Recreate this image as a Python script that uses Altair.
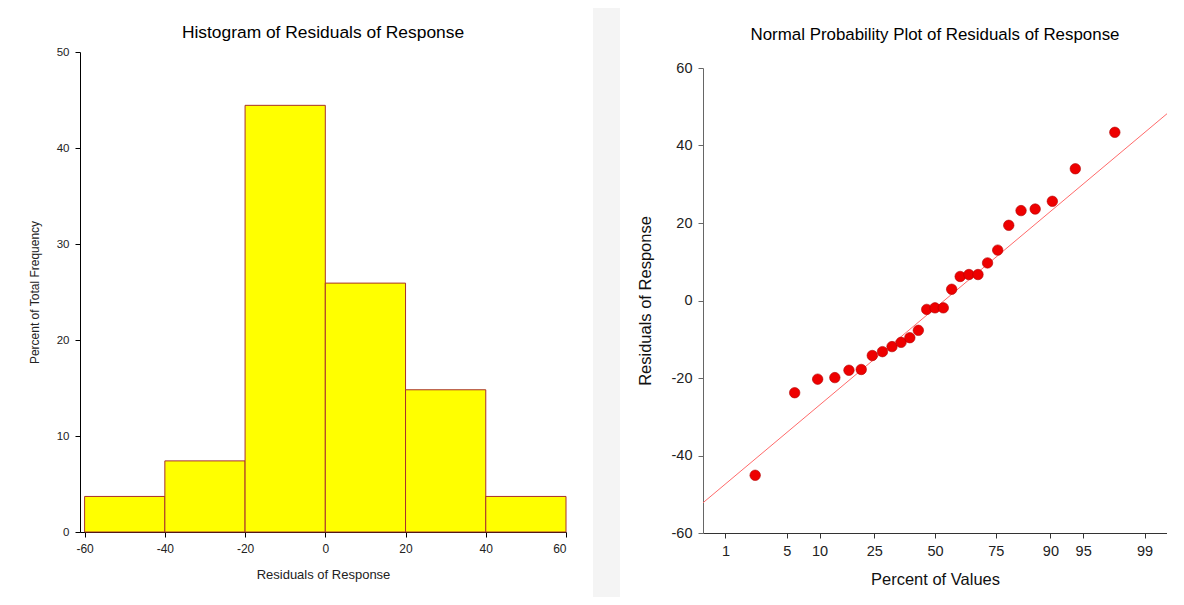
import altair as alt
import pandas as pd
from statistics import NormalDist

# ---- data ----
residuals = [-45.1, -23.8, -20.3, -19.9, -18.0, -17.8, -14.2, -13.2, -11.9, -10.8,
             -9.6, -7.7, -2.3, -1.9, -1.9, 2.9, 6.2, 6.7, 6.7, 9.7,
             13.0, 19.4, 23.2, 23.6, 25.6, 34.0, 43.4]
hist_x_ticks = [-60, -40, -20, 0, 20, 40, 60]
hist_y_ticks = [0, 10, 20, 30, 40, 50]
prob_ticks_pct = [1, 5, 10, 25, 50, 75, 90, 95, 99]
resid_ticks = [-60, -40, -20, 0, 20, 40, 60]
fit_pct = [0.5, 99.5]
fit_resid = [-52.2, 48.2]

FONT = "Liberation Sans"
nd = NormalDist()
prob_ticks_z = [nd.inv_cdf(p / 100) for p in prob_ticks_pct]
z_domain = [nd.inv_cdf(0.005), nd.inv_cdf(0.995)]

# ---- left: histogram ----
hist = (
    alt.Chart(pd.DataFrame({"resid": residuals}))
    .transform_bin(["bin_lo", "bin_hi"], field="resid", bin=alt.Bin(extent=[-60, 60], step=20))
    .transform_aggregate(count="count()", groupby=["bin_lo", "bin_hi"])
    .transform_joinaggregate(total="sum(count)")
    .transform_calculate(pct="100 * datum.count / datum.total")
    .mark_bar(fill="#ffff00", stroke="#a8322a", strokeWidth=1, orient="vertical")
    .encode(
        x=alt.X("bin_lo:Q",
                scale=alt.Scale(domain=[-61.15, 60], nice=False, zero=False, padding=0),
                axis=alt.Axis(values=hist_x_ticks, labelExpr="datum.value + ''",
                              title="Residuals of Response", titleFontSize=13,
                              labelFontSize=12, tickSize=5, labelPadding=6,
                              titlePadding=14, domainColor="#000", tickColor="#000",
                              labelColor="#222", titleColor="#222", grid=False,
                              labelFont=FONT, titleFont=FONT, titleFontWeight="normal")),
        x2="bin_hi:Q",
        y=alt.Y("pct:Q",
                scale=alt.Scale(domain=[0, 50], nice=False, padding=0),
                axis=alt.Axis(values=hist_y_ticks, title="Percent of Total Frequency",
                              titleFontSize=12, labelFontSize=11.5, tickSize=5,
                              labelPadding=6, titlePadding=15, domainColor="#000",
                              tickColor="#000", labelColor="#222", titleColor="#222",
                              grid=False, labelFont=FONT, titleFont=FONT,
                              titleFontWeight="normal")),
        y2=alt.datum(0),
    )
    .properties(
        width=486, height=480,
        title=alt.TitleParams("Histogram of Residuals of Response", fontSize=17.4, font=FONT,
                              fontWeight="normal", color="#000", frame="group",
                              anchor="middle", baseline="alphabetic", offset=-9),
    )
)

# ---- middle: grey separator strip ----
strip = (
    alt.Chart(pd.DataFrame({"a": [0]}))
    .mark_rect(color="#f4f4f4", clip=False)
    .encode(x=alt.value(9), x2=alt.value(36), y=alt.value(-44), y2=alt.value(545))
    .properties(width=27, height=480)
)

# ---- right: normal probability plot ----
x_enc = dict(
    scale=alt.Scale(domain=z_domain, nice=False, zero=False),
    axis=alt.Axis(values=prob_ticks_z,
                  labelExpr="round(cumulativeNormal(datum.value) * 100) + ''",
                  title="Percent of Values", titleFontSize=16.5, labelFontSize=14.5,
                  tickSize=5, labelPadding=6, titlePadding=14, domainColor="#333",
                  tickColor="#333", labelColor="#222", titleColor="#111", grid=False,
                  labelFont=FONT, titleFont=FONT, titleFontWeight="normal"),
)
y_enc = dict(
    scale=alt.Scale(domain=[-60, 60], nice=False, range=[481, 16]),
    axis=alt.Axis(values=resid_ticks, labelExpr="datum.value + ''",
                  title="Residuals of Response", titleFontSize=16.5, labelFontSize=14.5,
                  tickSize=5, labelPadding=6, titlePadding=17.5, domainColor="#666",
                  tickColor="#666", labelColor="#222", titleColor="#111", grid=False,
                  labelFont=FONT, titleFont=FONT, titleFontWeight="normal"),
)

points = (
    alt.Chart(pd.DataFrame({"resid": residuals}))
    .transform_window(rank="row_number()", sort=[alt.SortField("resid", order="ascending")])
    .transform_joinaggregate(n="count()")
    .transform_calculate(z="quantileNormal((datum.rank - 0.375) / (datum.n + 0.25))")
    .mark_circle(size=110, color="#ee0000", stroke="#b00000", strokeWidth=0.6, opacity=1)
    .encode(x=alt.X("z:Q", **x_enc), y=alt.Y("resid:Q", **y_enc))
)

fit = (
    alt.Chart(pd.DataFrame({"pct": fit_pct, "resid": fit_resid}))
    .transform_calculate(z="quantileNormal(datum.pct / 100)")
    .mark_line(color="#ff6a6a", strokeWidth=1, clip=True)
    .encode(x=alt.X("z:Q", **x_enc), y=alt.Y("resid:Q", **y_enc))
)

prob = (
    alt.layer(fit, points)
    .properties(
        width=464, height=481,
        title=alt.TitleParams("Normal Probability Plot of Residuals of Response", fontSize=16.9,
                              font=FONT, fontWeight="normal", color="#000", frame="group",
                              anchor="middle", baseline="alphabetic", offset=-5),
    )
)

chart = (
    alt.hconcat(hist, strip, prob, spacing=17)
    .properties(padding={"left": 20, "top": 0, "right": 0, "bottom": 0}, background="#ffffff")
    .configure_view(stroke=None)
)

chart.save("out.html", embed_options={"renderer": "svg", "actions": False})
